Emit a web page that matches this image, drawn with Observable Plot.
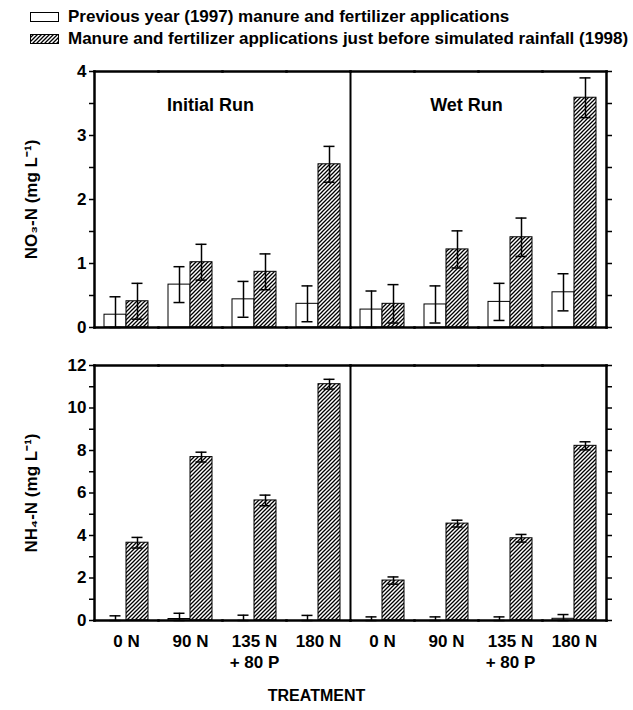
<!DOCTYPE html>
<html>
<head>
<meta charset="utf-8">
<script src="https://cdn.jsdelivr.net/npm/d3@7"></script>
<script src="https://cdn.jsdelivr.net/npm/@observablehq/plot@0.6"></script>
<style>
  body { margin: 0; background: white; font-family: "Liberation Sans", Arial, sans-serif; font-weight: bold; color: black; }
  #legend { height: 52px; box-sizing: border-box; padding-top: 6px; font-size: 17px; }
  .row { display: flex; align-items: center; height: 22px; white-space: nowrap; }
  .sw { margin-left: 30px; margin-right: 9px; }
  #caption { width: 633px; text-align: center; font-size: 16px; padding-top: 12px; }
</style>
</head>
<body>
<svg width="0" height="0" style="position:absolute">
  <defs>
    <pattern id="hatch" patternUnits="userSpaceOnUse" width="4" height="4">
      <rect width="4" height="4" fill="white"></rect>
      <path d="M-1,1 l2,-2 M0,4 l4,-4 M3,5 l2,-2" stroke="black" stroke-width="1.3"></path>
    </pattern>
  </defs>
</svg>
<div id="legend"></div>
<div id="top"></div>
<div id="bottom"></div>
<div id="caption">TREATMENT</div>
<script>
// ---- data ----
const treatments = ["0 N", "90 N", "135 N\n+ 80 P", "180 N"];
const runs = ["Initial Run", "Wet Run"];
const seriesKeys = ["1997", "1998"];
const seriesNames = [
  "Previous year (1997) manure and fertilizer applications",
  "Manure and fertilizer applications just before simulated rainfall (1998)"
];

// NO3-N (mg L-1)
const no3Initial1997 = [0.20, 0.67, 0.44, 0.37];
const no3Initial1998 = [0.41, 1.02, 0.87, 2.55];
const no3Wet1997 = [0.28, 0.36, 0.40, 0.55];
const no3Wet1998 = [0.37, 1.22, 1.41, 3.59];
const no3ErrInitial1997 = [0.28, 0.28, 0.28, 0.28];
const no3ErrInitial1998 = [0.28, 0.28, 0.28, 0.28];
const no3ErrWet1997 = [0.29, 0.29, 0.29, 0.29];
const no3ErrWet1998 = [0.30, 0.29, 0.30, 0.31];

// NH4-N (mg L-1)
const nh4Initial1997 = [0.00, 0.07, 0.00, 0.00];
const nh4Initial1998 = [3.66, 7.69, 5.65, 11.12];
const nh4Wet1997 = [0.00, 0.00, 0.00, 0.08];
const nh4Wet1998 = [1.88, 4.56, 3.87, 8.22];
const nh4ErrInitial1997 = [0.22, 0.27, 0.25, 0.24];
const nh4ErrInitial1998 = [0.25, 0.23, 0.25, 0.23];
const nh4ErrWet1997 = [0.17, 0.17, 0.17, 0.20];
const nh4ErrWet1998 = [0.17, 0.16, 0.18, 0.19];

const no3Ticks = [0, 0.5, 1, 1.5, 2, 2.5, 3, 3.5, 4];
const nh4Ticks = [0, 1, 2, 3, 4, 5, 6, 7, 8, 9, 10, 11, 12];

// ---- build tables ----
const keys = runs.flatMap(r => treatments.map(t => r + "|" + t));
function rows(vals, errs) {
  const out = [];
  runs.forEach((r, i) => treatments.forEach((t, j) => seriesKeys.forEach((s, k) => {
    out.push({key: r + "|" + t, series: s, value: vals[i][k][j], err: errs[i][k][j]});
  })));
  return out;
}
const no3 = rows([[no3Initial1997, no3Initial1998], [no3Wet1997, no3Wet1998]],
                 [[no3ErrInitial1997, no3ErrInitial1998], [no3ErrWet1997, no3ErrWet1998]]);
const nh4 = rows([[nh4Initial1997, nh4Initial1998], [nh4Wet1997, nh4Wet1998]],
                 [[nh4ErrInitial1997, nh4ErrInitial1998], [nh4ErrWet1997, nh4ErrWet1998]]);
const runTitles = runs.map((r, i) => ({key: r + "|" + treatments[1], text: r}));
const tLabel = k => k.split("|")[1];

// ---- legend ----
const legend = document.getElementById("legend");
seriesNames.forEach((name, i) => {
  const row = document.createElement("div");
  row.className = "row";
  row.innerHTML = `<svg class="sw" width="29" height="10"><rect x="0.5" y="0.5" width="28" height="9" fill="${i ? "url(#hatch)" : "white"}" stroke="black" stroke-width="1"></rect></svg><span>${name}</span>`;
  legend.appendChild(row);
});

function panel(data, yMax, ticks, label, opts) {
  const lo = d => Math.max(0, d.value - d.err);
  const hi = d => d.value + d.err;
  return Plot.plot({
    width: 633,
    height: opts.height,
    marginLeft: 92,
    marginRight: 26,
    marginTop: opts.marginTop,
    marginBottom: opts.marginBottom,
    style: {fontFamily: "'Liberation Sans', Arial, sans-serif", fontSize: "16px", fontWeight: "bold", color: "black", background: "white", overflow: "visible"},
    fx: {domain: keys, padding: 0, axis: null},
    x: {domain: seriesKeys, paddingInner: 0, paddingOuter: 0.43, axis: null},
    y: {domain: [0, yMax], axis: null},
    color: {domain: seriesKeys, range: ["white", "url(#hatch)"]},
    marks: [
      Plot.barY(data, {fx: "key", x: "series", y: "value", fill: "series", stroke: "black", strokeWidth: 1}),
      Plot.ruleX(data, {fx: "key", x: "series", y1: lo, y2: hi, stroke: "black", strokeWidth: 1.5}),
      Plot.tickY(data, {fx: "key", x: "series", y: hi, stroke: "black", strokeWidth: 1.5, insetLeft: 5.5, insetRight: 5.5}),
      Plot.tickY(data, {fx: "key", x: "series", y: lo, stroke: "black", strokeWidth: 1.5, insetLeft: 5.5, insetRight: 5.5}),
      Plot.frame({anchor: "top", stroke: "black", strokeWidth: 2.5}),
      Plot.frame({anchor: "bottom", stroke: "black", strokeWidth: 2.5}),
      Plot.frame({anchor: "left", fx: [keys[0]], stroke: "black", strokeWidth: 2.5}),
      Plot.frame({anchor: "left", fx: [keys[4]], stroke: "black", strokeWidth: 2}),
      Plot.frame({anchor: "right", fx: [keys[7]], stroke: "black", strokeWidth: 2.5}),
      Plot.axisY({anchor: "left", ticks, tickSize: 5, tickPadding: 3, strokeWidth: 1.5,
        tickFormat: d => (d % opts.labelEvery === 0 ? d : ""), fontSize: 17,
        label, labelAnchor: "center", labelArrow: "none", labelOffset: 70}),
      Plot.axisY({anchor: "right", ticks, tickSize: 5, strokeWidth: 1.5, tickFormat: () => "", label: null}),
      opts.titles ? Plot.text(runTitles, {fx: "key", text: "text", frameAnchor: "top-right", textAnchor: "middle", dx: -12, dy: 27, fontSize: 18}) : null,
      opts.xAxis ? Plot.axisFx({anchor: "bottom", tickSize: 0, tickPadding: 11, tickFormat: tLabel, label: null, lineHeight: 1.25, fontSize: 17}) : null
    ]
  });
}

document.getElementById("top").appendChild(
  panel(no3, 4, no3Ticks, "NO₃-N (mg L⁻¹)", {height: 293, marginTop: 19, marginBottom: 18, labelEvery: 1, titles: true, xAxis: false}));
document.getElementById("bottom").appendChild(
  panel(nh4, 12, nh4Ticks, "NH₄-N (mg L⁻¹)", {height: 330, marginTop: 20, marginBottom: 55, labelEvery: 2, titles: false, xAxis: true}));
</script>
</body>
</html>
